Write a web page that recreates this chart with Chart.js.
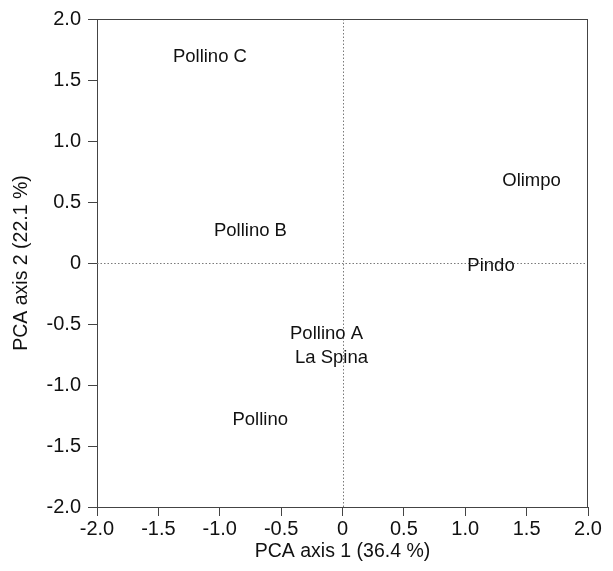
<!DOCTYPE html>
<html>
<head>
<meta charset="utf-8">
<script src="https://cdn.jsdelivr.net/npm/chart.js@4.4.1/dist/chart.umd.min.js"></script>
<style>
  html, body { margin: 0; padding: 0; background: #fff; }
  #wrap { width: 613px; height: 571px; position: relative; }
</style>
</head>
<body>
<div id="wrap"><canvas id="c" width="613" height="571"></canvas></div>
<script>
// Data
const siteNames = ["Pollino C", "Pollino B", "Olimpo", "Pindo", "Pollino A", "La Spina", "Pollino"];
const axis1Scores = [-1.08, -0.75, 1.54, 1.21, -0.13, -0.09, -0.67];
const axis2Scores = [1.69, 0.26, 0.67, -0.02, -0.58, -0.78, -1.29];
const tickValues = [-2.0, -1.5, -1.0, -0.5, 0, 0.5, 1.0, 1.5, 2.0];
const tickLabels = ["-2.0", "-1.5", "-1.0", "-0.5", "0", "0.5", "1.0", "1.5", "2.0"];
const xTitle = "PCA axis 1 (36.4 %)";
const yTitle = "PCA axis 2 (22.1 %)";

const FONT = "'Liberation Sans', Arial, Helvetica, sans-serif";

const points = siteNames.map((n, i) => ({ x: axis1Scores[i], y: axis2Scores[i], label: n }));

function tickLabelFor(v) {
  const i = tickValues.findIndex(t => Math.abs(t - v) < 1e-9);
  return i >= 0 ? tickLabels[i] : "";
}

const framePlugin = {
  id: 'frame',
  beforeDatasetsDraw(chart) {
    const { ctx, chartArea: a, scales } = chart;
    ctx.save();
    // dotted zero lines
    ctx.strokeStyle = '#7a7a7a';
    ctx.lineWidth = 1;
    ctx.setLineDash([1.5, 2]);
    const x0 = Math.round(scales.x.getPixelForValue(0)) + 0.5;
    const y0 = Math.round(scales.y.getPixelForValue(0)) + 0.5;
    ctx.beginPath();
    ctx.moveTo(x0, a.top); ctx.lineTo(x0, a.bottom);
    ctx.moveTo(a.left, y0); ctx.lineTo(a.right, y0);
    ctx.stroke();
    // top and right frame
    ctx.setLineDash([]);
    ctx.strokeStyle = '#444';
    ctx.beginPath();
    ctx.moveTo(a.left, a.top + 0.5); ctx.lineTo(a.right, a.top + 0.5);
    ctx.moveTo(a.right - 0.5, a.top); ctx.lineTo(a.right - 0.5, a.bottom);
    ctx.stroke();
    ctx.restore();
  },
  afterDatasetsDraw(chart) {
    const { ctx, scales } = chart;
    ctx.save();
    ctx.font = "18.5px " + FONT;
    ctx.fillStyle = '#111';
    ctx.textAlign = 'center';
    ctx.textBaseline = 'middle';
    chart.data.datasets[0].data.forEach(p => {
      const px = scales.x.getPixelForValue(p.x);
      const py = scales.y.getPixelForValue(p.y);
      ctx.fillText(p.label, px, py);
    });
    ctx.restore();
  }
};

new Chart(document.getElementById('c'), {
  type: 'scatter',
  data: {
    datasets: [{
      data: points,
      pointRadius: 0,
      pointHoverRadius: 0,
      showLine: false
    }]
  },
  options: {
    responsive: false,
    animation: false,
    events: [],
    layout: { padding: { top: 17, right: 25, left: 0, bottom: 0 } },
    plugins: { legend: { display: false }, tooltip: { enabled: false } },
    scales: {
      x: {
        type: 'linear',
        min: -2, max: 2,
        afterBuildTicks(scale) { scale.ticks = tickValues.map(v => ({ value: v })); },
        afterFit(scale) { scale.height = 64; },
        grid: { drawOnChartArea: false, drawTicks: true, tickLength: 9, tickColor: '#444', tickWidth: 1 },
        border: { display: true, color: '#444', width: 1 },
        ticks: {
          color: '#111',
          font: { family: FONT, size: 20 },
          padding: 1,
          maxRotation: 0,
          autoSkip: false,
          callback: (v) => tickLabelFor(v)
        },
        title: {
          display: true,
          text: xTitle,
          color: '#111',
          font: { family: FONT, size: 19.5 },
          padding: { top: 0, bottom: 8 }
        }
      },
      y: {
        type: 'linear',
        min: -2, max: 2,
        afterBuildTicks(scale) { scale.ticks = tickValues.map(v => ({ value: v })); },
        afterFit(scale) { scale.width = 97; },
        grid: { drawOnChartArea: false, drawTicks: true, tickLength: 9, tickColor: '#444', tickWidth: 1 },
        border: { display: true, color: '#444', width: 1 },
        ticks: {
          color: '#111',
          font: { family: FONT, size: 20 },
          padding: 7,
          autoSkip: false,
          callback: (v) => tickLabelFor(v)
        },
        title: {
          display: true,
          text: yTitle,
          color: '#111',
          font: { family: FONT, size: 19.5 },
          padding: { top: 10, bottom: 0 }
        }
      }
    }
  },
  plugins: [framePlugin]
});
</script>
</body>
</html>
